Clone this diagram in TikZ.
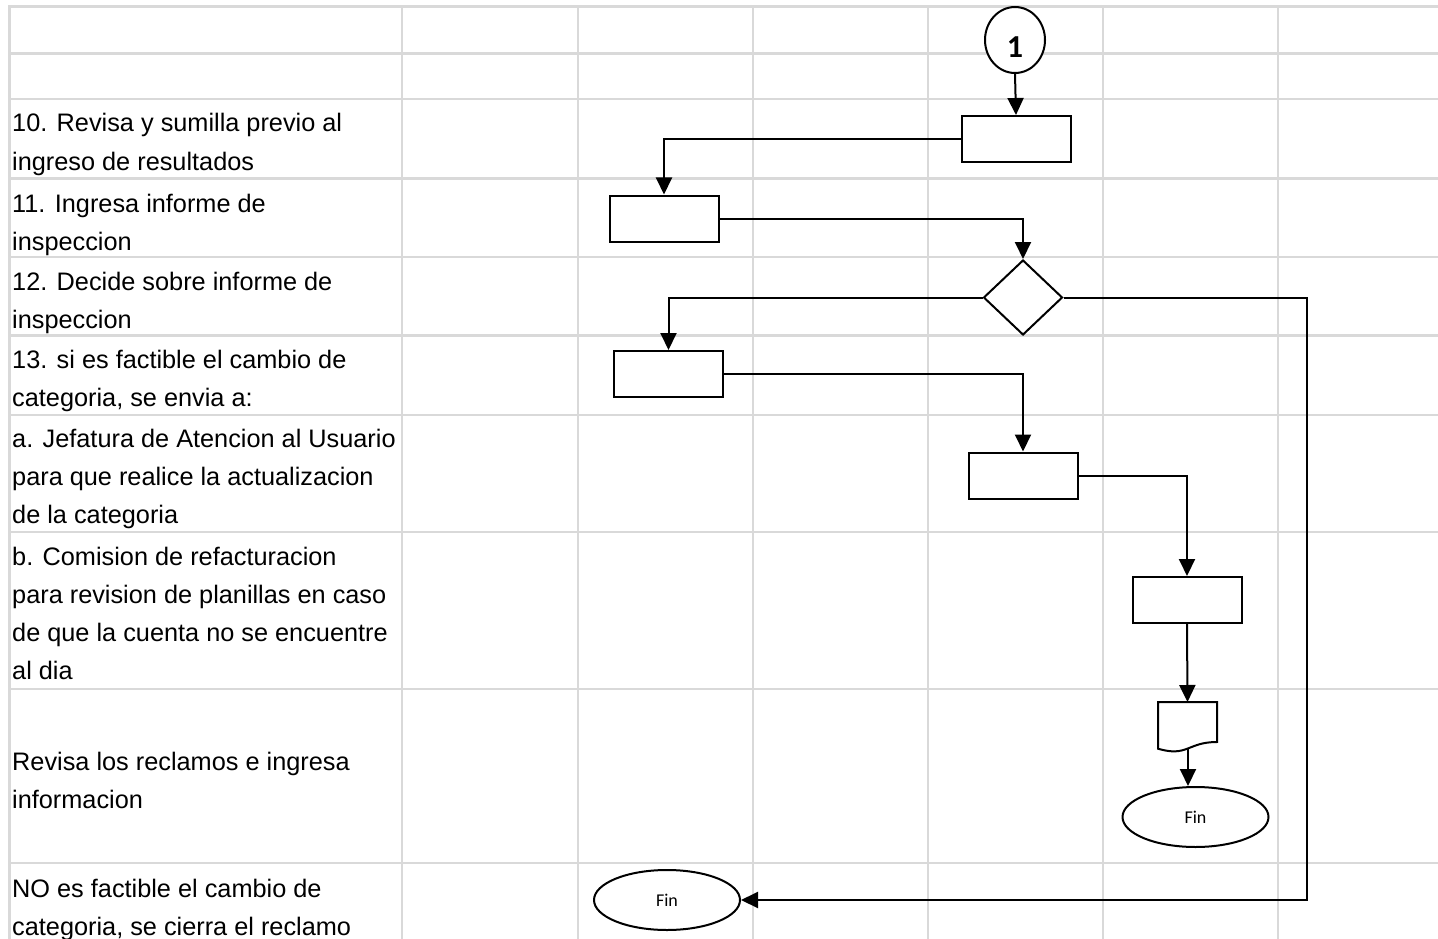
\documentclass[tikz,border=0pt]{standalone}
\usepackage{fontspec}
\setmainfont{Liberation Sans}
\newfontfamily\calib{Carlito}
\usetikzlibrary{shapes.geometric,arrows.meta}
\definecolor{gridgray}{HTML}{D9D9D9}

\begin{document}
\begin{tikzpicture}[x=1pt,y=-1pt,
  grid/.style={draw=gridgray,line width=2.3pt},
  stepbox/.style={rectangle,draw,fill=white,line width=2pt,minimum width=109pt,minimum height=46pt,inner sep=0pt},
  decision/.style={diamond,draw,fill=white,line width=2pt,minimum width=79pt,minimum height=75pt,inner sep=0pt},
  terminal/.style={ellipse,draw,fill=white,line width=2pt,minimum width=146pt,minimum height=60pt,inner sep=0pt,
    font=\calib\fontsize{18}{20}\selectfont},
  flow/.style={line width=2pt,-{Triangle[length=17pt,width=16pt]}},
  rowtext/.style={anchor=base west,inner sep=0pt,font=\fontsize{25.3}{30}\selectfont}
]
% page area
\fill[white] (0,0) rectangle (1438,939);
\useasboundingbox (0,0) rectangle (1438,939);

% table grid
\foreach \x in {9.5,402,578,753,928,1103,1278}
  \draw[grid] (\x,6.5) -- (\x,939);
\foreach \y in {6.5,53.5,99,178.5,257,335.5,415,532,689,863}
  \draw[grid] (8.4,\y) -- (1438,\y);

% activity descriptions, one node per printed line
\node[rowtext] (t10a) at (12,132) {10. Revisa y sumilla previo al};
\node[rowtext] (t10b) at (12,170.3) {ingreso de resultados};
\node[rowtext] (t11a) at (12,212) {11. Ingresa informe de};
\node[rowtext] (t11b) at (12,250.3) {inspeccion};
\node[rowtext] (t12a) at (12,290) {12. Decide sobre informe de};
\node[rowtext] (t12b) at (12,328.3) {inspeccion};
\node[rowtext] (t13a) at (12,368) {13. si es factible el cambio de};
\node[rowtext] (t13b) at (12,406.3) {categoria, se envia a:};
\node[rowtext] (taa) at (12,447) {a. Jefatura de Atencion al Usuario};
\node[rowtext] (tab) at (12,485.3) {para que realice la actualizacion};
\node[rowtext] (tac) at (12,523.6) {de la categoria};
\node[rowtext] (tba) at (12,565) {b. Comision de refacturacion};
\node[rowtext] (tbb) at (12,603.3) {para revision de planillas en caso};
\node[rowtext] (tbc) at (12,641.6) {de que la cuenta no se encuentre};
\node[rowtext] (tbd) at (12,679.9) {al dia};
\node[rowtext] (treva) at (12,770) {Revisa los reclamos e ingresa};
\node[rowtext] (trevb) at (12,808.3) {informacion};
\node[rowtext] (tnoa) at (12,897) {NO es factible el cambio de};
\node[rowtext] (tnob) at (12,935.3) {categoria, se cierra el reclamo};

% connector from previous page
\node[ellipse,draw,fill=white,line width=2pt,minimum width=60pt,minimum height=66pt,inner sep=0pt] (c1) at (1015,40) {};
\node[font=\calib\bfseries\fontsize{32}{32}\selectfont,inner sep=0pt] (c1n) at (1015,47) {1};

% process steps
\node[stepbox] (b1) at (1016,139) {};
\node[stepbox] (b2) at (664,218.5) {};
\node[decision] (dia) at (1023,297.5) {};
\node[stepbox] (b3) at (668.5,374) {};
\node[stepbox] (b4) at (1023,475.5) {};
\node[stepbox] (b5) at (1187,600) {};

% document symbol
\coordinate (doctop) at (1187.5,702);
\coordinate (docb) at (1188,748.6);
\draw[line width=2pt,fill=white] (1158,702) -- (1217,702) -- (1217,742)
  .. controls (1187.5,742) and (1187.5,757.4) .. (1158,748.7) -- cycle;

% end points
\node[terminal] (fin1) at (1195.5,817) {Fin};
\node[terminal] (fin2) at (667,900) {Fin};

% flow lines
\draw[flow] (c1.south) -- (b1.north);
\draw[flow] (b1.west) -| (b2.north);
\draw[flow] (b2.east) -| (dia.north);
\draw[flow] (dia.west) -| (b3.north);
\draw[flow] (b3.east) -| (b4.north);
\draw[flow] (b4.east) -| (b5.north);
\draw[flow] (b5.south) -- (doctop);
\draw[flow] (docb) -- (docb |- fin1.north);
\coordinate (rturn) at (1307,297.5);
\draw[flow] (dia.east) -- (rturn) |- (fin2.east);
\end{tikzpicture}
\end{document}
